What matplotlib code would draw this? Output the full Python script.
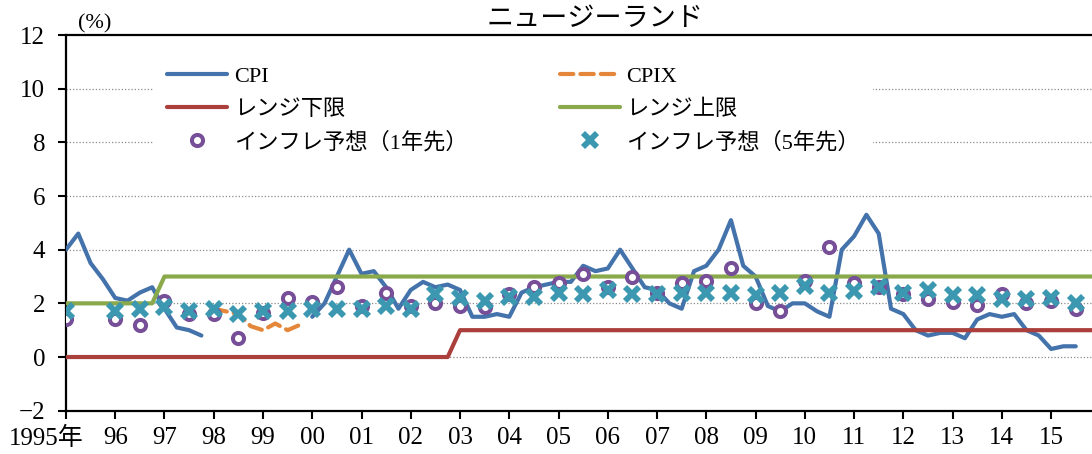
import numpy as np
import matplotlib
matplotlib.use('Agg')
import matplotlib.pyplot as plt
import matplotlib.transforms as mtransforms

nan = np.nan

# quarterly CPI, 1995Q1 - 2015Q3 (CPIX period left blank)
cpi_start = 1995.0
cpi = [4.0, 4.6, 3.5, 2.9,
       2.2, 2.1, 2.4, 2.6,
       1.8, 1.1, 1.0, 0.8,
       nan, nan, nan, nan,
       nan, nan, nan, nan,
       1.5, 2.0, 3.0, 4.0,
       3.1, 3.2, 2.6, 1.8,
       2.5, 2.8, 2.6, 2.7,
       2.5, 1.5, 1.5, 1.6,
       1.5, 2.4, 2.6, 2.7,
       2.8, 2.8, 3.4, 3.2,
       3.3, 4.0, 3.3, 2.6,
       2.5, 2.0, 1.8, 3.2,
       3.4, 4.0, 5.1, 3.4,
       3.0, 1.9, 1.7, 2.0,
       2.0, 1.7, 1.5, 4.0,
       4.5, 5.3, 4.6, 1.8,
       1.6, 1.0, 0.8, 0.9,
       0.9, 0.7, 1.4, 1.6,
       1.5, 1.6, 1.0, 0.8,
       0.3, 0.4, 0.4]

# CPIX, 1998Q1 - 1999Q4
cpix_start = 1998.0
cpix = [1.8, 1.7, 1.6, 1.15, 1.0, 1.25, 1.0, 1.2]

# target range, quarterly from 1995Q1
range_start = 1995.0
range_low = [0.0] * 32 + [1.0] * 53
range_high = [2.0] * 8 + [3.0] * 77

# inflation expectations, half-yearly from 1995
exp_start = 1995.0
exp1 = [1.4, nan, 1.4, 1.2, 2.1, 1.6, 1.6, 0.7, 1.65, 2.2,
        2.05, 2.6, 1.9, 2.4, 1.9, 2.0, 1.9, 1.85, 2.35, 2.6,
        2.75, 3.1, 2.6, 3.0, 2.4, 2.75, 2.85, 3.3, 2.0, 1.7,
        2.85, 4.1, 2.75, 2.6, 2.35, 2.15, 2.05, 1.95, 2.35, 2.0,
        2.1, 1.8]
exp5 = [1.7, nan, 1.7, 1.8, 1.85, 1.7, 1.8, 1.6, 1.7, 1.7,
        1.8, 1.8, 1.8, 1.9, 1.8, 2.35, 2.2, 2.1, 2.25, 2.25,
        2.4, 2.35, 2.5, 2.35, 2.35, 2.4, 2.4, 2.4, 2.3, 2.4,
        2.65, 2.4, 2.45, 2.6, 2.4, 2.5, 2.3, 2.3, 2.15, 2.15,
        2.2, 2.0]

years = list(range(1995, 2016))
year_labels = ['1995年'] + ['%02d' % (y % 100) for y in years[1:]]

fonts = ['Liberation Serif', 'Noto Sans CJK JP', 'DejaVu Serif']
plt.rcParams['font.family'] = fonts

fig = plt.figure(figsize=(10.92, 4.54), dpi=100)
ax = fig.add_axes([0.0604, 0.0954, 0.9396, 0.8275])

q_cpi = cpi_start + np.arange(len(cpi)) / 4
q_cpix = cpix_start + np.arange(len(cpix)) / 4
q_rng = range_start + np.arange(len(range_low)) / 4
h_exp = exp_start + np.arange(len(exp1)) / 2

l_cpi, = ax.plot(q_cpi, cpi, color='#4473ac', lw=3, solid_capstyle='round', label='CPI', zorder=3)
l_cpix, = ax.plot(q_cpix, cpix, color='#e5873a', lw=3, dashes=(3.2, 1.7), dash_capstyle='round',
                  label='CPIX', zorder=3)
l_low, = ax.plot(q_rng, range_low, color='#aa3f3c', lw=3, solid_capstyle='round',
                 label='レンジ下限', zorder=4)
l_high, = ax.plot(q_rng, range_high, color='#89a94b', lw=3, solid_capstyle='round',
                  label='レンジ上限', zorder=4)
l_e1, = ax.plot(h_exp, exp1, ls='none', marker='o', ms=8, mew=2.9, mec='#774f98', mfc='white',
                label='インフレ予想（1年先）', zorder=5)
l_e5, = ax.plot(h_exp, exp5, ls='none', marker='x', ms=10, mew=4.2, mec='#3c98b0',
                label='インフレ予想（5年先）', zorder=6)

ax.set_xlim(1995, 2015.83)
ax.set_ylim(-2, 12)
ax.set_yticks(range(-2, 13, 2))
ax.set_yticklabels(['−2', '0', '2', '4', '6', '8', '10', '12'])
ax.set_xticks(years)
ax.set_xticklabels(year_labels)

for y in range(0, 12, 2):
    ax.axhline(y, color='#8c8c8c', lw=0.9, ls=(0, (1, 1.6)), zorder=1)

for s in ['left', 'bottom', 'top']:
    ax.spines[s].set_linewidth(1.6)
    ax.spines[s].set_color('black')
ax.spines['right'].set_visible(False)

ax.tick_params(axis='both', direction='out', length=6, width=1.5, labelsize=18, colors='black')
ax.tick_params(axis='y', pad=9)
ax.tick_params(axis='x', pad=6)

# first year label sits left of its tick
first = ax.get_xticklabels()[0]
first.set_transform(first.get_transform() + mtransforms.ScaledTranslation(-0.2, 0, fig.dpi_scale_trans))

fig.text(0.087, 0.947, '(%)', fontsize=16, ha='center', va='center', family=fonts)
fig.text(0.545, 0.96, 'ニュージーランド', fontsize=19.5, ha='center', va='center',
         family=['Noto Sans CJK JP', 'DejaVu Sans'])

# row-wise order like the original legend
handles = [l_cpi, l_low, l_e1, l_cpix, l_high, l_e5]
leg = ax.legend(handles, [h.get_label() for h in handles], ncol=2, loc='upper left',
                bbox_to_anchor=(0.075, 0.982), fontsize=16,
                frameon=True, facecolor='white', edgecolor='none', framealpha=1,
                handlelength=2.7, handletextpad=0.3, columnspacing=4.15, labelspacing=0.55,
                borderpad=0.6, numpoints=1)
leg.set_zorder(7)

fig.savefig('out.png', dpi=100)
